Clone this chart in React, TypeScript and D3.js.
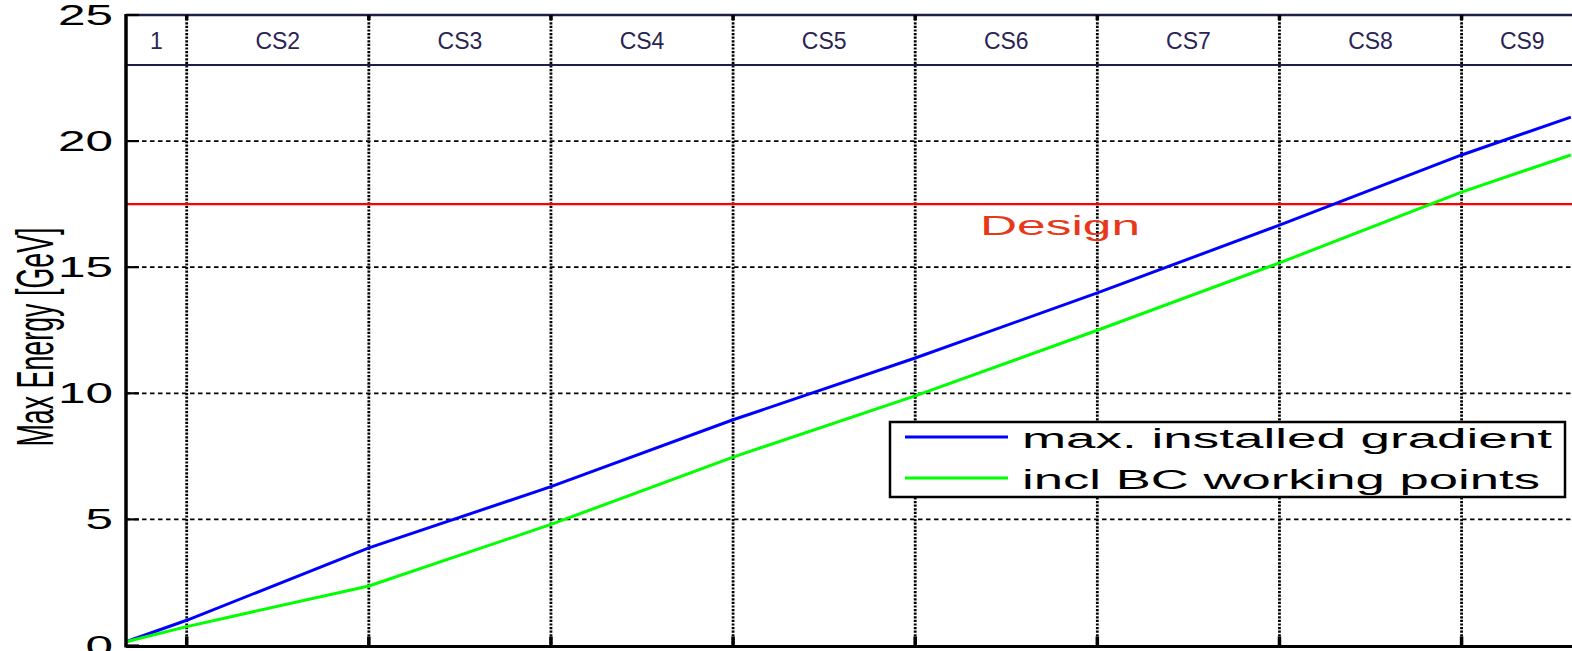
import * as d3 from "d3";

// cavity position along the linac, in cryomodules
const modules = [0, 4, 16, 28, 40, 52, 64, 76, 88, 95.2];
const maxGradient = [0.15, 1.0, 3.87, 6.3, 8.95, 11.4, 13.98, 16.67, 19.45, 20.95];
const bcWorking = [0.15, 0.75, 2.36, 4.8, 7.47, 9.9, 12.5, 15.17, 17.98, 19.45];

const sectionEdges = [0, 4, 16, 28, 40, 52, 64, 76, 88, 96];
const sectionLabels = ["1", "CS2", "CS3", "CS4", "CS5", "CS6", "CS7", "CS8", "CS9"];
const yTicks = [0, 5, 10, 15, 20, 25];
const designEnergy = 17.5;

const W = 1572;
const H = 651;
const FONT = "'Liberation Sans', Arial, sans-serif";

const App = () => {
  const x = d3.scaleLinear().domain([0, 96]).range([126, 1583]);
  const y = d3.scaleLinear().domain([0, 25]).range([645.5, 15]);
  const headerBottom = 65;

  const line = d3
    .line<number>()
    .x((_, i) => x(modules[i]))
    .y((d) => y(d));

  const gridX = sectionEdges.slice(1, -1);

  return (
    <svg
      width={W}
      height={H}
      style={{ position: "absolute", left: 0, top: 0, display: "block", background: "#fff" }}
      fontFamily={FONT}
    >
      {/* horizontal grid */}
      {yTicks.slice(1, -1).map((t) => (
        <line key={"gy" + t} x1={x(0)} x2={W} y1={y(t)} y2={y(t)}
          stroke="#000" strokeWidth={1.8} strokeDasharray="4.5,3.5" />
      ))}
      {/* vertical grid */}
      {gridX.map((t) => (
        <line key={"gx" + t} x1={x(t)} x2={x(t)} y1={y(25)} y2={y(0)}
          stroke="#000" strokeWidth={2.8} strokeDasharray="2.2,1.4" />
      ))}

      {/* header band */}
      <line x1={x(0)} x2={W} y1={headerBottom} y2={headerBottom} stroke="#1e1e4a" strokeWidth={2} />
      <line x1={x(0)} x2={W} y1={y(25)} y2={y(25)} stroke="#1e1e4a" strokeWidth={2.5} />
      {sectionLabels.map((s, i) => (
        <text key={s} x={(x(sectionEdges[i]) + x(sectionEdges[i + 1])) / 2} y={49}
          textAnchor="middle" fontSize={23} fill="#2b2452">{s}</text>
      ))}

      {/* design level */}
      <line x1={x(0)} x2={W} y1={y(designEnergy)} y2={y(designEnergy)} stroke="#ff0000" strokeWidth={2.2} />
      <text x={1060} y={235} textAnchor="middle" fontSize={28} fill="#e8381a"
        textLength={160} lengthAdjust="spacingAndGlyphs">Design</text>

      {/* curves */}
      <path d={line(maxGradient) || ""} fill="none" stroke="#0000ff" strokeWidth={3} />
      <path d={line(bcWorking) || ""} fill="none" stroke="#00ff00" strokeWidth={3} />

      {/* axes */}
      <line x1={x(0)} x2={x(0)} y1={y(25) - 1} y2={y(0) + 2} stroke="#000" strokeWidth={3.5} />
      <line x1={x(0)} x2={W} y1={y(0) + 1} y2={y(0) + 1} stroke="#000" strokeWidth={3} />
      {gridX.map((t) => (
        <g key={"tx" + t}>
          <line x1={x(t)} x2={x(t)} y1={y(0)} y2={y(0) - 9} stroke="#000" strokeWidth={3.5} />
          <line x1={x(t)} x2={x(t)} y1={y(25)} y2={y(25) + 5} stroke="#000" strokeWidth={3.5} />
        </g>
      ))}
      {yTicks.map((t) => (
        <g key={"ty" + t}>
          <line x1={x(0)} x2={x(0) + 13} y1={y(t)} y2={y(t)} stroke="#000" strokeWidth={2.2} />
          <text x={113} y={y(t) + 10} textAnchor="end" fontSize={29} fill="#000"
            textLength={String(t).length * 27.5} lengthAdjust="spacingAndGlyphs">{t}</text>
        </g>
      ))}

      <text transform={`translate(53,337) rotate(-90)`} textAnchor="middle" fontSize={52}
        fill="#000" textLength={219} lengthAdjust="spacingAndGlyphs">Max Energy [GeV]</text>

      {/* legend */}
      <rect x={890} y={422} width={675} height={75} fill="#fff" stroke="#000" strokeWidth={2.5} />
      <line x1={905} x2={1008} y1={437} y2={437} stroke="#0000ff" strokeWidth={3} />
      <line x1={905} x2={1008} y1={478} y2={478} stroke="#00ff00" strokeWidth={3} />
      <text x={1022} y={448} fontSize={27} fill="#000" textLength={530}
        lengthAdjust="spacingAndGlyphs">max. installed gradient</text>
      <text x={1022} y={489} fontSize={27} fill="#000" textLength={518}
        lengthAdjust="spacingAndGlyphs">incl BC working points</text>
    </svg>
  );
};

export default App;
